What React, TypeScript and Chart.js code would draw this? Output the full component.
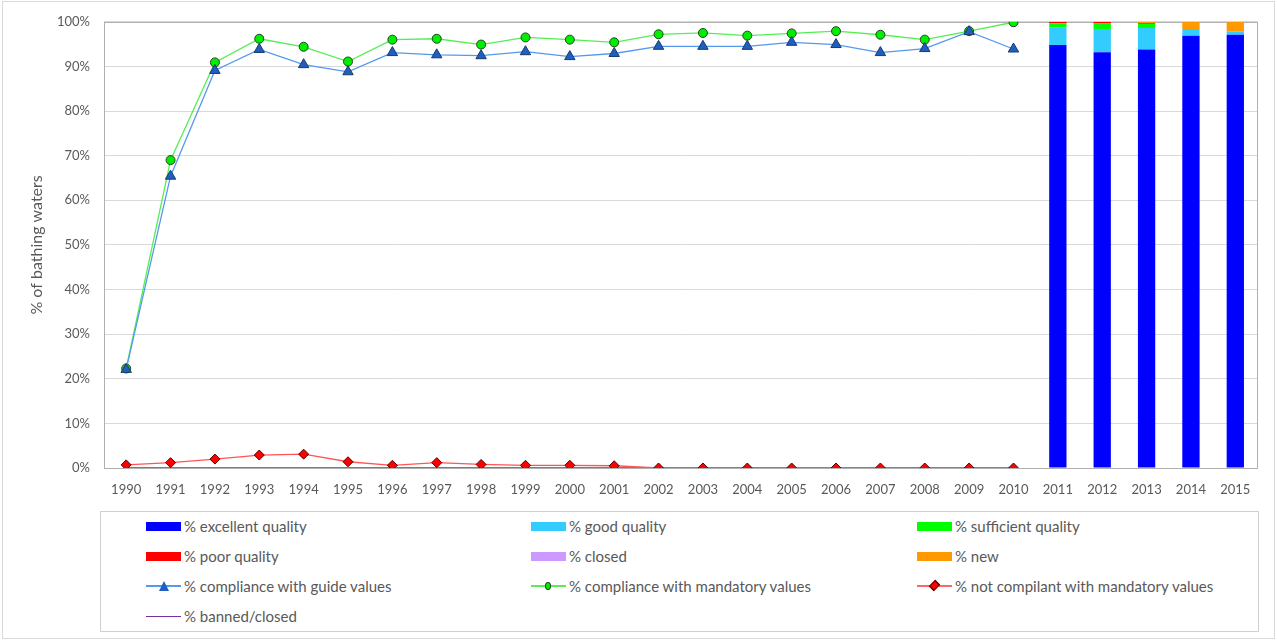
import React, { useEffect, useRef } from "react";
import { Chart, registerables } from "chart.js";
Chart.register(...registerables);

const years = ["1990","1991","1992","1993","1994","1995","1996","1997","1998","1999","2000","2001","2002","2003","2004","2005","2006","2007","2008","2009","2010","2011","2012","2013","2014","2015"];
const lineYears = years.slice(0, 21);
const guideValues = [22.1, 65.4, 89.1, 93.8, 90.4, 88.8, 93.1, 92.6, 92.4, 93.3, 92.2, 92.9, 94.5, 94.5, 94.5, 95.4, 94.9, 93.1, 94.0, 97.8, 93.9];
const mandatoryValues = [22.3, 69.0, 90.9, 96.2, 94.4, 91.1, 96.0, 96.2, 94.9, 96.5, 96.0, 95.4, 97.2, 97.5, 96.9, 97.4, 97.9, 97.1, 96.0, 97.9, 99.9];
const notCompliantValues = [0.7, 1.2, 2.0, 2.9, 3.1, 1.4, 0.6, 1.2, 0.8, 0.6, 0.6, 0.5, 0, 0, 0, 0, 0, 0, 0, 0, 0];
const bannedClosedValues = [0, 0, 0, 0, 0, 0, 0, 0, 0, 0, 0, 0, 0, 0, 0, 0, 0, 0, 0, 0, 0];

const barYears = ["2011", "2012", "2013", "2014", "2015"];
const excellentValues = [94.8, 93.2, 93.8, 96.9, 97.1];
const goodValues = [4.0, 5.2, 4.8, 1.5, 0.7];
const sufficientValues = [0.9, 1.2, 0.9, 0, 0];
const poorValues = [0.3, 0.4, 0.2, 0, 0];
const closedValues = [0, 0, 0, 0, 0];
const newValues = [0, 0, 0.3, 1.6, 2.2];

const yTicks = [0, 10, 20, 30, 40, 50, 60, 70, 80, 90, 100];

function pad(keys: string[], vals: number[]) {
  return years.map((y) => {
    const i = keys.indexOf(y);
    return i >= 0 ? vals[i] : null;
  });
}

const FONT = "Lato, 'Open Sans', sans-serif";
const TEXT = "#595959";

type LegendItem = { label: string; kind: "box" | "line"; color: string; marker?: "triangle" | "circle" | "diamond"; markerFill?: string; markerBorder?: string };

const legendItems: LegendItem[] = [
  { label: "% excellent quality", kind: "box", color: "#0000ff" },
  { label: "% good quality", kind: "box", color: "#33ccff" },
  { label: "% sufficient quality", kind: "box", color: "#00ff00" },
  { label: "% poor quality", kind: "box", color: "#ff0000" },
  { label: "% closed", kind: "box", color: "#cc99ff" },
  { label: "% new", kind: "box", color: "#ff9900" },
  { label: "% compliance with guide values", kind: "line", color: "#5599ee", marker: "triangle", markerFill: "#1f5fc0", markerBorder: "#1a3a6a" },
  { label: "% compliance with mandatory values", kind: "line", color: "#55ee55", marker: "circle", markerFill: "#00ee00", markerBorder: "#224422" },
  { label: "% not compilant with mandatory values", kind: "line", color: "#ff6666", marker: "diamond", markerFill: "#ff0000", markerBorder: "#550000" },
  { label: "% banned/closed", kind: "line", color: "#7030a0" },
];

function Swatch({ item }: { item: LegendItem }) {
  if (item.kind === "box") {
    return <div style={{ width: 35, height: 9, background: item.color }} />;
  }
  let marker: React.ReactNode = null;
  if (item.marker === "triangle") {
    marker = (
      <div style={{ position: "absolute", left: 13, top: 0, width: 0, height: 0, borderLeft: "5px solid transparent", borderRight: "5px solid transparent", borderBottom: `10px solid ${item.markerFill}` }} />
    );
  } else if (item.marker === "circle") {
    marker = (
      <div style={{ position: "absolute", left: 14, top: 1, width: 6, height: 8, borderRadius: "50%", background: item.markerFill, border: `1px solid ${item.markerBorder}`, boxSizing: "border-box" }} />
    );
  } else if (item.marker === "diamond") {
    marker = (
      <div style={{ position: "absolute", left: 14, top: 1, width: 7, height: 7, transform: "rotate(45deg) scaleY(1.3)", background: item.markerFill, border: `1px solid ${item.markerBorder}`, boxSizing: "border-box" }} />
    );
  }
  return (
    <div style={{ position: "relative", width: 35, height: 10 }}>
      <div style={{ position: "absolute", left: 0, top: item.marker ? 4 : 4.5, width: 35, height: item.marker ? 2 : 1.5, background: item.color }} />
      {marker}
    </div>
  );
}

export default function App() {
  const canvasRef = useRef<HTMLCanvasElement | null>(null);

  useEffect(() => {
    const canvas = canvasRef.current;
    if (!canvas) return;

    const plotBorder = {
      id: "plotBorder",
      beforeDatasetsDraw(chart: any) {
        const { ctx, chartArea } = chart;
        ctx.save();
        ctx.strokeStyle = "#b0b0b0";
        ctx.lineWidth = 1;
        ctx.strokeRect(Math.round(chartArea.left) + 0.5, Math.round(chartArea.top) + 0.5, Math.round(chartArea.right - chartArea.left) - 1, Math.round(chartArea.bottom - chartArea.top));
        ctx.restore();
      },
    };

    const barDs = (label: string, vals: number[], color: string) => ({
      type: "bar" as const,
      label,
      data: pad(barYears, vals),
      backgroundColor: color,
      borderWidth: 0,
      stack: "bars",
      order: 2,
      barPercentage: 0.39,
      categoryPercentage: 1,
    });

    const chart = new Chart(canvas, {
      type: "bar",
      data: {
        labels: years,
        datasets: [
          barDs("% excellent quality", excellentValues, "#0000ff"),
          barDs("% good quality", goodValues, "#33ccff"),
          barDs("% sufficient quality", sufficientValues, "#00ff00"),
          barDs("% poor quality", poorValues, "#ff0000"),
          barDs("% closed", closedValues, "#cc99ff"),
          barDs("% new", newValues, "#ff9900"),
          {
            type: "line",
            label: "% banned/closed",
            data: pad(lineYears, bannedClosedValues),
            borderColor: "#7030a0",
            borderWidth: 1.5,
            pointRadius: 0,
            stack: "l4",
            order: 1,
          } as any,
          {
            type: "line",
            label: "% not compilant with mandatory values",
            data: pad(lineYears, notCompliantValues),
            borderColor: "#ff5555",
            borderWidth: 1.3,
            pointStyle: "rectRot",
            pointRadius: 5,
            pointBackgroundColor: "#ff0000",
            pointBorderColor: "#550000",
            pointBorderWidth: 1,
            stack: "l3",
            order: 0,
          } as any,
          {
            type: "line",
            label: "% compliance with guide values",
            data: pad(lineYears, guideValues),
            borderColor: "#5599ee",
            borderWidth: 1.3,
            pointStyle: "triangle",
            pointRadius: 6,
            pointBackgroundColor: "#1f5fc0",
            pointBorderColor: "#1a3a6a",
            pointBorderWidth: 1,
            stack: "l1",
            order: 0,
          } as any,
          {
            type: "line",
            label: "% compliance with mandatory values",
            data: pad(lineYears, mandatoryValues),
            borderColor: "#55ee55",
            borderWidth: 1.3,
            pointStyle: "circle",
            pointRadius: 4.5,
            pointBackgroundColor: "#00ee00",
            pointBorderColor: "#224422",
            pointBorderWidth: 1,
            stack: "l2",
            order: 0,
          } as any,
        ],
      },
      options: {
        responsive: false,
        animation: false,
        devicePixelRatio: 1,
        layout: { padding: { top: 20, right: 19.5, left: 0, bottom: 0 } },
        plugins: { legend: { display: false }, tooltip: { enabled: false } },
        scales: {
          x: {
            offset: true,
            grid: { display: false, drawTicks: false },
            border: { display: false },
            ticks: { color: TEXT, font: { family: FONT, size: 13 }, padding: 14, maxRotation: 0, autoSkip: false },
            afterFit: (s: any) => { s.height = 37; },
          },
          y: {
            stacked: true,
            min: 0,
            max: 100,
            afterBuildTicks: (s: any) => { s.ticks = yTicks.map((v) => ({ value: v })); },
            grid: { color: "#d9d9d9", drawTicks: false, lineWidth: 1 },
            border: { display: false },
            ticks: { color: TEXT, font: { family: FONT, size: 13 }, padding: 14, callback: (v: any) => `${v}%` },
            title: { display: true, text: "% of bathing waters", color: TEXT, font: { family: FONT, size: 16 }, padding: { top: 27, bottom: 0 } },
            afterFit: (s: any) => { s.width = 104; },
          },
        },
      },
      plugins: [plotBorder],
    });

    return () => chart.destroy();
  }, []);

  const colX = [146, 531, 917];
  const rowY = [526, 556, 586, 616];

  return (
    <div style={{ position: "absolute", left: 0, top: 0, width: 1277, height: 641, background: "#fff", overflow: "hidden", fontFamily: FONT }}>
      <div style={{ position: "absolute", left: 2, top: 1, width: 1273, height: 638, border: "1px solid #d9d9d9", boxSizing: "border-box" }} />
      <canvas ref={canvasRef} width={1277} height={505} style={{ position: "absolute", left: 0, top: 0, width: 1277, height: 505 }} />
      <div style={{ position: "absolute", left: 100, top: 511, width: 1159, height: 121, border: "1px solid #d0d0d0", boxSizing: "border-box" }} />
      {legendItems.map((item, i) => {
        const col = i % 3;
        const row = Math.floor(i / 3);
        return (
          <div key={item.label} style={{ position: "absolute", left: colX[col], top: rowY[row] - 10, height: 20, display: "flex", alignItems: "center", whiteSpace: "nowrap" }}>
            <Swatch item={item} />
            <span style={{ marginLeft: 3, fontSize: 15, color: TEXT, lineHeight: "20px" }}>{item.label}</span>
          </div>
        );
      })}
    </div>
  );
}
